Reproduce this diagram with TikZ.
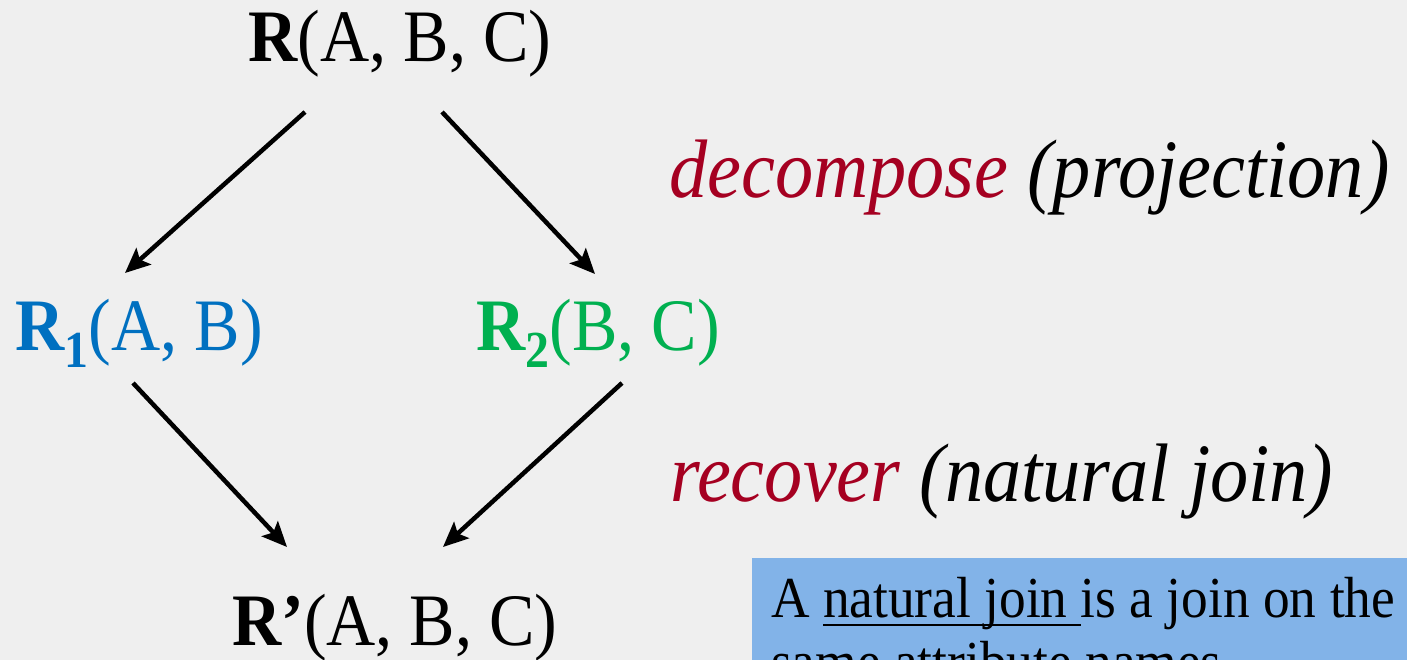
\documentclass[tikz,border=0pt]{standalone}
\usepackage{fontspec}
\setmainfont{Liberation Serif}[FakeStretch=0.92]
\usetikzlibrary{arrows.meta}
\definecolor{bg}{HTML}{EFEFEF}
\definecolor{relblue}{HTML}{0070C0}
\definecolor{relgreen}{HTML}{00B050}
\definecolor{darkred}{HTML}{A50021}
\definecolor{boxblue}{HTML}{82B3E8}
\tikzset{
  rel/.style={inner sep=0pt, anchor=base west, font=\fontsize{74}{80}\selectfont},
  side/.style={inner sep=0pt, anchor=base west, font=\fontsize{83}{90}\selectfont\itshape},
  notetext/.style={inner sep=0pt, anchor=base west, font=\fontsize{58}{64}\selectfont},
  arr/.style={line width=4.5pt, -{Stealth[length=25pt, width=22pt, inset=5pt]}},
}
\newcommand{\subnum}[1]{\raisebox{-17pt}{\fontsize{52}{52}\selectfont\bfseries #1}}
\newcommand{\myul}[1]{\setbox0\hbox{#1}\rlap{\rule[-9pt]{\wd0}{2.5pt}}\box0}
\begin{document}
\begin{tikzpicture}[x=1pt, y=-1pt]
\fill[bg] (0,0) rectangle (1407,660);
\useasboundingbox (0,0) rectangle (1407,660);
\clip (0,0) rectangle (1407,660);

\node[rel] (r) at (248,62) {\textbf{R}(A, B, C)};
\node[rel, text=relblue] (r1) at (15,350) {\textbf{R}\subnum{1}(A, B)};
\node[rel, text=relgreen] (r2) at (476,350) {\textbf{R}\subnum{2}(B, C)};
\node[rel] (rp) at (232,645) {\textbf{R’}(A, B, C)};

\node[side] (dec) at (669,198) {\textcolor{darkred}{decompose} (projection)};
\node[side] (rec) at (670,501) {\textcolor{darkred}{recover} (natural join)};

\coordinate (a1s) at (305,112); \coordinate (a1e) at (125,273);
\coordinate (a2s) at (442,112); \coordinate (a2e) at (595,274);
\coordinate (a3s) at (133,383); \coordinate (a3e) at (287,547);
\coordinate (a4s) at (622,383); \coordinate (a4e) at (443,547);
\draw[arr] (a1s) -- (a1e);
\draw[arr] (a2s) -- (a2e);
\draw[arr] (a3s) -- (a3e);
\draw[arr] (a4s) -- (a4e);

\node[fill=boxblue, anchor=north west, inner sep=0pt, minimum width=700pt, minimum height=160pt] (note) at (752,558) {};
\node[notetext] (noteA) at (771,617) {A \myul{natural join\ }is a join on the};
\node[notetext] (noteB) at (771,681) {same attribute names};
\end{tikzpicture}
\end{document}
